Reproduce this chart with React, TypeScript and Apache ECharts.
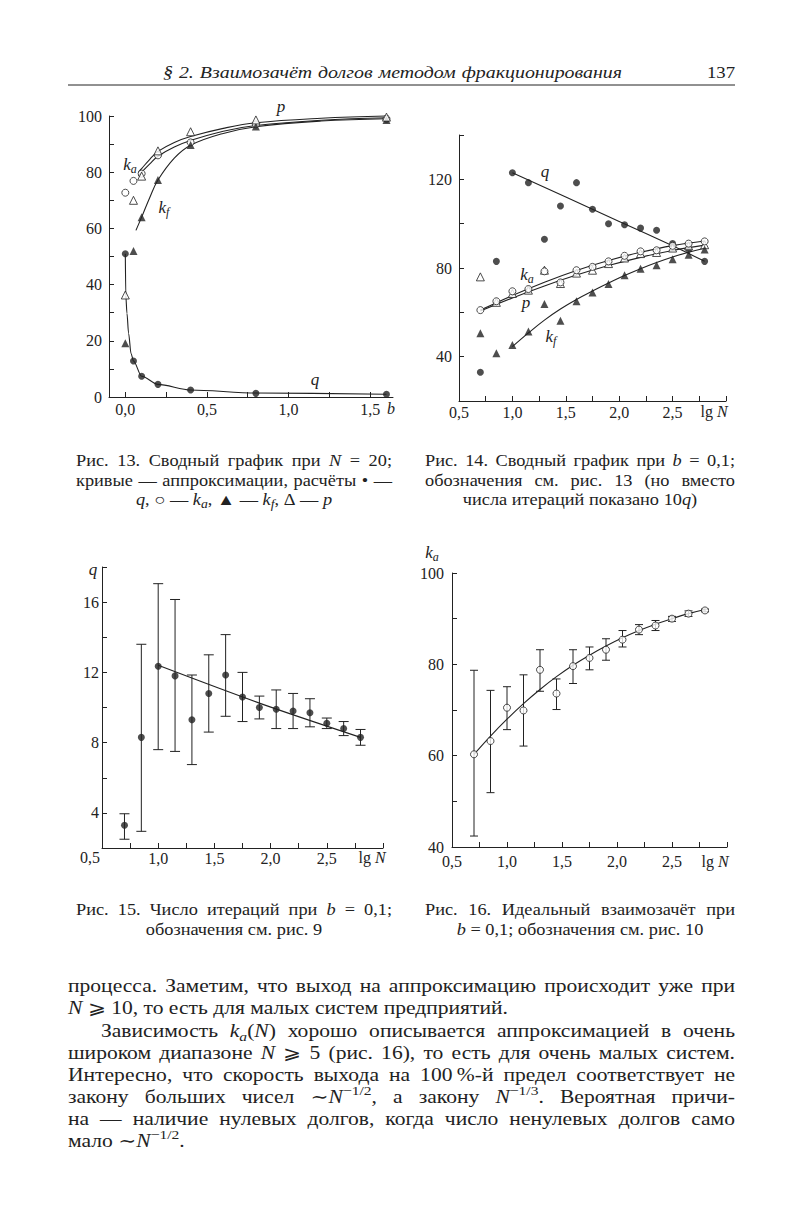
import React, { useEffect, useRef } from 'react';
import * as echarts from 'echarts';

const SERIF = '"Liberation Serif", "DejaVu Serif", serif';
const INK = '#222222';

// ---------- Fig. 13 : N = 20, varying b ----------
const b13 = [0, 0.05, 0.1, 0.2, 0.4, 0.8, 1.6];
const q13 = [51, 12.8, 7.4, 4.5, 2.5, 1.3, 1.0];
const ka13 = [72.7, 76.9, 79.5, 86, 90.6, 97, 99];
const kf13 = [19.1, 52, 64, 77.2, 89.7, 96.3, 98.6];
const p13 = [36.3, 70, 78.6, 87.6, 94.4, 98.6, 99.6];
const q13FitB = [0, 0.003, 0.01, 0.02, 0.035, 0.05, 0.1, 0.2, 0.4, 0.8, 1.6];
const q13Fit = [51, 36, 29.8, 22.7, 15.5, 12.8, 7.4, 4.5, 2.5, 1.4, 1.0];
const fitB13 = [0.08, 0.1, 0.15, 0.2, 0.3, 0.4, 0.6, 0.8, 1.2, 1.6];
const p13Fit = [80, 81.3, 84.6, 87.4, 90.6, 92.7, 95.6, 97.6, 99.2, 100];
const ka13Fit = [78.6, 80, 83, 85.7, 89, 91.3, 94.6, 96.6, 98.5, 99.4];
const kfFitB13 = [0.065, 0.1, 0.15, 0.2, 0.3, 0.4, 0.6, 0.8, 1.2, 1.6];
const kf13Fit = [59.3, 64, 71, 77.2, 85, 89.6, 93.8, 96.2, 98.2, 99];
const xTicks13 = [0, 0.25, 0.5, 0.75, 1, 1.25, 1.5];
const xLabels13 = [0, 0.5, 1, 1.5];

// ---------- Fig. 14 : b = 0.1, varying lg N ----------
const lgN = [0.7, 0.85, 1.0, 1.15, 1.3, 1.45, 1.6, 1.75, 1.9, 2.05, 2.2, 2.35, 2.5, 2.65, 2.8];
const q14 = [33, 83, 123, 118.5, 93, 108, 118.5, 106.5, 100, 99.5, 98, 97, 91, 88.5, 83];
const ka14 = [61, 65, 69.5, 70.5, 78.5, 73.5, 79, 80.5, 83, 85.5, 87.5, 88, 90, 91, 92];
const p14 = [76, 64.5, 68.5, 70, 79, 73, 77.7, 79, 82, 84.5, 86.5, 87, 89, 90, 90.5];
const kf14 = [50.6, 41.5, 45.3, 51.3, 63.8, 56.2, 65, 69, 72.8, 76.7, 79.7, 81.2, 84, 86, 88.3];
const lgFit14 = [0.7, 1.0, 1.3, 1.6, 1.9, 2.2, 2.5, 2.8];
const ka14Fit = [61, 67.6, 73.6, 78.9, 83.4, 87.1, 90.1, 92.2];
const p14Fit = [60.6, 66.5, 71.9, 76.8, 81.1, 84.8, 87.9, 90.3];
const lgKf14 = [1.0, 1.15, 1.3, 1.45, 1.6, 1.75, 1.9, 2.05, 2.2, 2.35, 2.5, 2.65, 2.8];
const kf14Fit = [44.5, 50.7, 56.5, 61.5, 65.8, 69.6, 73.2, 76.6, 79.7, 82.5, 85.0, 87.1, 88.9];
const lgQ14 = [1.0, 1.5, 2.0, 2.5, 2.8];
const q14Fit = [123, 112, 101, 90, 83];

// ---------- Fig. 15 : number of iterations q ----------
const q15 = [3.3, 8.3, 12.35, 11.8, 9.3, 10.8, 11.85, 10.6, 10.0, 9.9, 9.8, 9.7, 9.1, 8.8, 8.3];
const q15Hi = [3.95, 13.6, 17.05, 16.15, 11.85, 13.0, 14.15, 12.0, 10.65, 11.0, 10.8, 10.5, 9.4, 9.2, 8.75];
const q15Lo = [2.5, 2.95, 7.6, 7.5, 6.75, 8.6, 9.5, 9.2, 9.35, 8.8, 8.8, 8.9, 8.8, 8.4, 7.85];
const lgQ15 = [1.0, 1.9, 2.8];
const q15Fit = [12.4, 10.25, 8.3];

// ---------- Fig. 16 : ideal netting k_a ----------
const ka16 = [60.3, 63.2, 70.5, 69.9, 78.8, 73.6, 79.6, 81.4, 83.2, 85.4, 87.6, 88.5, 90, 91.1, 91.8];
const ka16Hi = [78.7, 74.3, 75.1, 77.7, 83.2, 76.8, 83.2, 83.8, 85.6, 87.4, 88.7, 89.6, 90.5, 91.7, 92.1];
const ka16Lo = [42.4, 51.9, 65.7, 62.1, 74.1, 70.1, 75.8, 78.8, 80.9, 83.8, 86.5, 87.4, 89.4, 90.5, 91.5];
const ka16Fit = [60.3, 64.3, 68.0, 71.4, 74.5, 77.3, 79.8, 82.0, 84.0, 85.8, 87.4, 88.8, 90.0, 91.1, 92.0];

// ---------- Page texts ----------
const headerText = '§ 2. Взаимозачёт долгов методом фракционирования';
const pageNumber = '137';
const cap13 = ['Рис. 13. Сводный график при *N* = 20;', 'кривые — аппроксимации, расчёты • —', '*q*, ○ — *k*_a_, ▲ — *k*_f_, Δ — *p*'];
const cap14 = ['Рис. 14. Сводный график при *b* = 0,1;', 'обозначения см. рис. 13 (но вместо', 'числа итераций показано 10*q*)'];
const cap15 = ['Рис. 15. Число итераций при *b* = 0,1;', 'обозначения см. рис. 9'];
const cap16 = ['Рис. 16. Идеальный взаимозачёт при', '*b* = 0,1; обозначения см. рис. 10'];
const body = [
  'процесса. Заметим, что выход на аппроксимацию происходит уже при',
  '*N* ⩾ 10, то есть для малых систем предприятий.',
  'Зависимость *k*_a_(*N*) хорошо описывается аппроксимацией в очень',
  'широком диапазоне *N* ⩾ 5 (рис. 16), то есть для очень малых систем.',
  'Интересно, что скорость выхода на 100\u202F%-й предел соответствует не',
  'закону больших чисел ∼*N*^−1/2^, а закону *N*^−1/3^. Вероятная причи-',
  'на — наличие нулевых долгов, когда число ненулевых долгов само',
  'мало ∼*N*^−1/2^.',
];

const fmtDec = (v: number) => v.toFixed(1).replace('.', ',');
const isMult = (v: number, m: number) => Math.abs(v / m - Math.round(v / m)) < 1e-6;

type Kind = 'r' | 'i' | 'sub' | 'sup';
let ctx: CanvasRenderingContext2D | null = null;
function measure(t: string, font: string) {
  if (!ctx) ctx = document.createElement('canvas').getContext('2d');
  ctx!.font = font;
  return ctx!.measureText(t).width;
}
function fontOf(k: Kind, S: number) {
  if (k === 'i') return `italic ${S}px ${SERIF}`;
  if (k === 'sub') return `italic ${Math.round(S * 0.72)}px ${SERIF}`;
  if (k === 'sup') return `${Math.round(S * 0.72)}px ${SERIF}`;
  return `${S}px ${SERIF}`;
}
function parseWord(w: string, allItalic: boolean): [string, Kind][] {
  return w
    .split(/(\*[^*]+\*|_[^_]+_|\^[^^]+\^)/)
    .filter(Boolean)
    .map((p) =>
      p[0] === '*' && p.length > 2 ? [p.slice(1, -1), 'i'] :
      p[0] === '_' && p.length > 2 ? [p.slice(1, -1), 'sub'] :
      p[0] === '^' && p.length > 2 ? [p.slice(1, -1), 'sup'] : [p, allItalic ? 'i' : 'r']
    ) as [string, Kind][];
}
function words(line: string, S: number, allItalic = false) {
  return line.split(' ').filter(Boolean).map((w) =>
    parseWord(w, allItalic).map(([t, k]) => { const f = fontOf(k, S); return { t, k, f, w: measure(t, f) }; })
  );
}
function autoSx(line: string, width: number, S: number, spaceFactor = 1.3, allItalic = false) {
  const ws = words(line, S, allItalic);
  const total = ws.reduce((a, segs) => a + segs.reduce((b, s) => b + s.w, 0), 0);
  const sp = measure(' ', fontOf('r', S));
  return width / (total + (ws.length - 1) * sp * spaceFactor);
}
function layout(out: any[], line: string, x0: number, x1: number, y: number, S: number,
  mode: 'justify' | 'left' | 'center' | 'right', sx: number, allItalic = false) {
  const ws = words(line, S, allItalic);
  const ww = ws.map((segs) => segs.reduce((a, s) => a + s.w * sx, 0));
  const total = ww.reduce((a, b) => a + b, 0);
  const sp = measure(' ', fontOf('r', S)) * sx;
  let gap = sp;
  let x = x0;
  if (mode === 'justify' && ws.length > 1) gap = (x1 - x0 - total) / (ws.length - 1);
  else if (mode === 'center') x = (x0 + x1) / 2 - (total + sp * (ws.length - 1)) / 2;
  else if (mode === 'right') x = x1 - (total + sp * (ws.length - 1));
  ws.forEach((segs) => {
    segs.forEach((s) => {
      const dy = s.k === 'sub' ? S * 0.28 : s.k === 'sup' ? -S * 0.36 : 0;
      out.push({
        type: 'text', x, y: y + dy, scaleX: sx, silent: true, z: 100,
        style: { text: s.t, font: s.f, fill: INK, textAlign: 'left', textVerticalAlign: 'middle', align: 'left', verticalAlign: 'middle' },
      });
      x += s.w * sx;
    });
    x += gap;
  });
}

const axisLineStyle = { color: INK, width: 1 };
const tickFont = { color: INK, fontFamily: 'Liberation Serif', fontSize: 16 };
function xAxisDef(gi: number, min: number, max: number, extra: any) {
  return {
    type: 'value', gridIndex: gi, min, max,
    axisLine: { show: true, onZero: false, lineStyle: axisLineStyle },
    axisTick: { show: true, inside: true, length: 5, lineStyle: axisLineStyle, ...(extra.tick || {}) },
    splitLine: { show: false },
    axisLabel: { ...tickFont, ...(extra.label || {}) },
    ...(extra.axis || {}),
  };
}
function yAxisDef(gi: number, min: number, max: number, interval: number, labelEvery: number, margin: number, hideTop = false) {
  return {
    type: 'value', gridIndex: gi, min, max, interval,
    axisLine: { show: true, onZero: false, lineStyle: axisLineStyle },
    axisTick: { show: true, inside: true, length: 5, lineStyle: axisLineStyle },
    splitLine: { show: false },
    axisLabel: {
      ...tickFont, margin,
      formatter: (v: number) => (isMult(v, labelEvery) && !(hideTop && v === max) ? String(v) : ''),
    },
  };
}

const pair = (xs: number[], ys: number[]) => xs.map((x, i) => [x, ys[i]]);
function fitLine(gi: number, xs: number[], ys: number[], smooth: number = 0.35, monotone = false) {
  const s: any = {
    type: 'line', xAxisIndex: gi, yAxisIndex: gi, data: pair(xs, ys), symbol: 'none',
    smooth, lineStyle: { color: INK, width: 1.1 }, silent: true, z: 2, clip: false,
  };
  if (monotone) s.smoothMonotone = 'x';
  return s;
}
function marks(gi: number, xs: number[], ys: number[], kind: 'fc' | 'oc' | 'ft' | 'ot', size?: number) {
  const circ = kind[1] === 'c';
  return {
    type: 'scatter', xAxisIndex: gi, yAxisIndex: gi, data: pair(xs, ys),
    symbol: circ ? 'circle' : 'triangle', symbolSize: size || (circ ? 7 : 8),
    itemStyle: kind[0] === 'f' ? { color: INK } : { color: '#fff', borderColor: INK, borderWidth: 1 },
    silent: true, z: 4,
  };
}
function errBars(gi: number, xs: number[], lo: number[], hi: number[], cap: number) {
  return {
    type: 'custom', xAxisIndex: gi, yAxisIndex: gi, silent: true, z: 3,
    data: xs.map((x, i) => [x, lo[i], hi[i]]),
    encode: { x: 0, y: [1, 2] },
    renderItem: (_p: any, api: any) => {
      const x = api.value(0);
      const a = api.coord([x, api.value(1)]);
      const b = api.coord([x, api.value(2)]);
      const st = { stroke: INK, lineWidth: 1 };
      return {
        type: 'group',
        children: [
          { type: 'line', shape: { x1: a[0], y1: a[1], x2: b[0], y2: b[1] }, style: st },
          { type: 'line', shape: { x1: a[0] - cap, y1: a[1], x2: a[0] + cap, y2: a[1] }, style: st },
          { type: 'line', shape: { x1: b[0] - cap, y1: b[1], x2: b[0] + cap, y2: b[1] }, style: st },
        ],
      };
    },
  };
}

function buildOption() {
  const g: any[] = [];
  // header
  const hS = 17;
  layout(g, headerText, 163, 622, 72, hS, 'justify', autoSx(headerText, 459, hS, 1.2, true), true);
  layout(g, pageNumber, 600, 735, 72, hS, 'right', 1.1);
  g.push({ type: 'line', silent: true, shape: { x1: 68, y1: 85, x2: 735, y2: 85 }, style: { stroke: INK, lineWidth: 1 } });

  // captions
  const cS = 16;
  const cSx = autoSx(cap13[1], 316, cS, 1.2);
  const capBlock = (lines: string[], x0: number, x1: number, y0: number) => {
    lines.forEach((l, i) => layout(g, l, x0, x1, y0 + i * 19.5, cS, i === lines.length - 1 ? 'center' : 'justify', cSx));
  };
  capBlock(cap13, 76, 392, 461);
  capBlock(cap14, 425, 735, 461);
  capBlock(cap15, 76, 392, 910);
  capBlock(cap16, 425, 735, 910);

  // body text
  const bS = 18;
  const bSx = autoSx(body[0], 667, bS, 1.5);
  const ys = [986, 1008, 1031, 1053, 1075, 1097, 1119, 1141];
  const modes: ('justify' | 'left')[] = ['justify', 'left', 'justify', 'justify', 'justify', 'justify', 'justify', 'left'];
  body.forEach((l, i) => layout(g, l, i === 2 ? 101 : 68, 735, ys[i], bS, modes[i], bSx));

  // in-plot labels and axis names
  const lS = 17;
  const lab = (t: string, cx: number, cy: number, S = lS) => layout(g, t, cx, cx, cy, S, 'center', 1);
  lab('*p*', 281, 106);
  lab('*k*_a_', 130, 164);
  lab('*k*_f_', 164, 207);
  lab('*q*', 315, 379);
  lab('*b*', 391, 408, 16);
  lab('*q*', 545, 171);
  lab('*k*_a_', 527, 274);
  lab('*p*', 526, 302);
  lab('*k*_f_', 551, 336);
  lab('lg *N*', 714, 411, 16);
  lab('*q*', 93, 569);
  lab('0,5', 90, 857, 16);
  lab('lg *N*', 372, 857, 16);
  lab('*k*_a_', 432, 552);
  lab('lg *N*', 715, 861, 16);

  const lgLabel = (hideHalf: boolean) => (v: number) =>
    isMult(v, 0.5) && v < 2.9 && !(hideHalf && v < 0.6) ? fmtDec(v) : '';

  return {
    animation: false,
    backgroundColor: '#ffffff',
    grid: [
      { left: 109, top: 116, width: 284, height: 281 },
      { left: 459, top: 135, width: 267, height: 266 },
      { left: 102, top: 567, width: 281, height: 281 },
      { left: 452, top: 573, width: 275, height: 274 },
    ],
    xAxis: [
      xAxisDef(0, -0.1, 1.64, {
        tick: { customValues: xTicks13 },
        label: { customValues: xLabels13, formatter: (v: number) => fmtDec(v), margin: 4 },
      }),
      xAxisDef(1, 0.5, 3.0, { axis: { interval: 0.25 }, label: { formatter: lgLabel(false), margin: 3 } }),
      xAxisDef(2, 0.5, 3.0, { axis: { interval: 0.25 }, label: { formatter: lgLabel(true), margin: 2 } }),
      xAxisDef(3, 0.5, 3.0, { axis: { interval: 0.25 }, label: { formatter: lgLabel(false), margin: 6 } }),
    ],
    yAxis: [
      yAxisDef(0, 0, 100, 10, 20, 7),
      yAxisDef(1, 20, 140, 20, 40, 7),
      yAxisDef(2, 2, 18, 2, 4, 3, true),
      yAxisDef(3, 40, 100, 10, 20, 8),
    ],
    series: [
      // Fig 13
      fitLine(0, q13FitB, q13Fit, 0.3, true),
      fitLine(0, fitB13, p13Fit, 0.4),
      fitLine(0, fitB13, ka13Fit, 0.4),
      fitLine(0, kfFitB13, kf13Fit, 0.4),
      marks(0, b13, q13, 'fc'),
      marks(0, b13, ka13, 'oc'),
      marks(0, b13, kf13, 'ft'),
      marks(0, b13, p13, 'ot'),
      // Fig 14
      fitLine(1, lgQ14, q14Fit, 0.3),
      fitLine(1, lgFit14, ka14Fit, 0.4),
      fitLine(1, lgFit14, p14Fit, 0.4),
      fitLine(1, lgKf14, kf14Fit, 0.4),
      marks(1, lgN, q14, 'fc'),
      marks(1, lgN, p14, 'ot'),
      marks(1, lgN, ka14, 'oc'),
      marks(1, lgN, kf14, 'ft'),
      // Fig 15
      errBars(2, lgN, q15Lo, q15Hi, 5),
      fitLine(2, lgQ15, q15Fit, 0.3),
      marks(2, lgN, q15, 'fc'),
      // Fig 16
      errBars(3, lgN, ka16Lo, ka16Hi, 4),
      fitLine(3, lgN, ka16Fit, 0.4),
      marks(3, lgN, ka16, 'oc'),
    ],
    graphic: { elements: g },
  };
}

export default function App() {
  const ref = useRef<HTMLDivElement>(null);
  useEffect(() => {
    if (!ref.current) return;
    const chart = echarts.init(ref.current, null, { renderer: 'svg' });
    chart.setOption(buildOption() as any);
    return () => chart.dispose();
  }, []);
  return (
    <div
      ref={ref}
      style={{ position: 'absolute', left: 0, top: 0, width: 802, height: 1229, background: '#fff' }}
    />
  );
}
